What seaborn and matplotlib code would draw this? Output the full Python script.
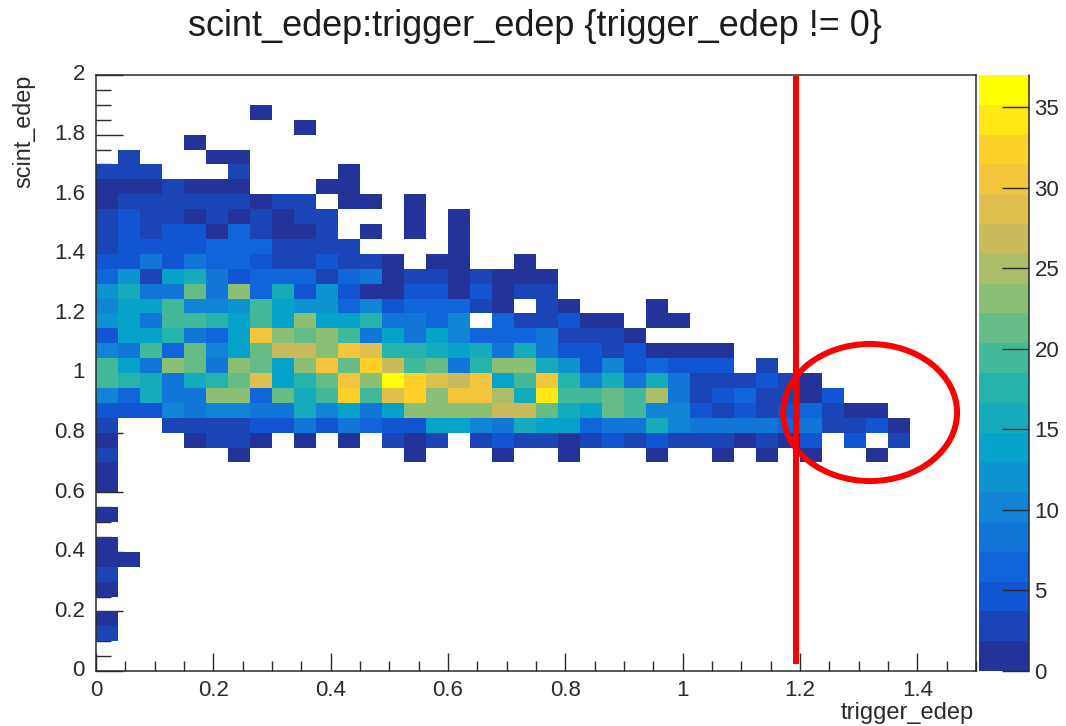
import numpy as np
import pandas as pd
import seaborn as sns
import matplotlib
matplotlib.use("Agg")
import matplotlib.pyplot as plt
from matplotlib.colors import LinearSegmentedColormap, BoundaryNorm
from matplotlib.patches import Ellipse
from matplotlib.ticker import FixedLocator

# Histogram counts: one list per scint_edep bin (bin 0 = 0-0.05), left to right in trigger_edep bins
row_02 = [3]
row_03 = [1]
row_05 = [1]
row_06 = [3]
row_07 = [1, 1]
row_08 = [1]
row_10 = [1]
row_12 = [1]
row_13 = [1]
row_14 = [3, 0, 0, 0, 0, 0, 1, 0, 0, 0, 0, 0, 0, 0, 1, 0, 0, 0, 1, 0, 0, 1, 0, 0, 0, 1, 0, 0, 1, 0, 1, 0, 1, 0, 0, 1]
row_15 = [1, 0, 0, 0, 1, 2, 2, 1, 0, 1, 0, 1, 0, 3, 1, 3, 0, 2, 4, 2, 2, 1, 2, 4, 3, 5, 3, 3, 3, 1, 2, 1, 4, 0, 4, 0, 3]
row_16 = [3, 0, 0, 3, 3, 3, 3, 4, 4, 8, 5, 9, 7, 5, 5, 13, 13, 10, 8, 15, 13, 13, 7, 9, 9, 16, 10, 8, 9, 8, 8, 6, 8, 3, 3, 5, 1]
row_17 = [5, 5, 5, 10, 9, 11, 11, 9, 9, 15, 10, 14, 9, 14, 23, 23, 23, 23, 27, 26, 22, 16, 14, 22, 19, 10, 10, 5, 3, 4, 2, 4, 7, 3, 1, 1]
row_18 = [11, 6, 15, 9, 8, 23, 24, 7, 22, 16, 19, 32, 20, 29, 33, 23, 30, 31, 25, 15, 34, 19, 19, 22, 20, 25, 9, 3, 5, 6, 2, 3, 1, 4]
row_19 = [20, 18, 16, 9, 15, 17, 21, 28, 14, 17, 21, 31, 24, 37, 32, 28, 26, 30, 13, 20, 31, 18, 11, 15, 8, 15, 8, 3, 3, 2, 4, 2, 1]
row_20 = [20, 13, 8, 23, 21, 9, 24, 22, 14, 24, 30, 22, 32, 27, 19, 22, 9, 18, 24, 24, 15, 12, 5, 10, 5, 7, 4, 4, 4, 0, 3]
row_21 = [10, 8, 20, 7, 22, 10, 14, 22, 26, 26, 24, 31, 29, 18, 17, 15, 14, 15, 9, 15, 9, 5, 5, 3, 4, 1, 1, 1, 1]
row_22 = [5, 13, 13, 17, 8, 7, 14, 30, 24, 22, 24, 19, 8, 13, 9, 13, 11, 7, 6, 6, 9, 3, 3, 3, 1]
row_23 = [12, 13, 9, 19, 19, 18, 13, 19, 14, 24, 14, 14, 18, 8, 9, 6, 10, 0, 7, 2, 2, 4, 1, 1, 0, 1, 1]
row_24 = [10, 13, 13, 19, 10, 11, 12, 19, 14, 12, 12, 6, 10, 5, 6, 6, 7, 2, 1, 0, 3, 1, 0, 0, 0, 1]
row_25 = [12, 15, 8, 9, 22, 8, 23, 6, 16, 5, 12, 5, 1, 1, 4, 4, 1, 4, 1, 3, 3]
row_26 = [6, 12, 3, 14, 15, 9, 4, 6, 7, 7, 3, 7, 8, 1, 3, 3, 1, 2, 1, 1, 1]
row_27 = [5, 4, 8, 4, 8, 7, 7, 5, 3, 3, 5, 3, 3, 1, 0, 1, 1, 0, 0, 1]
row_28 = [2, 5, 5, 4, 4, 7, 6, 6, 3, 3, 3, 2, 0, 0, 0, 0, 1]
row_29 = [3, 5, 2, 4, 4, 1, 6, 3, 1, 1, 3, 0, 1, 0, 1, 0, 1]
row_30 = [3, 4, 2, 2, 1, 2, 1, 3, 1, 2, 3, 0, 0, 0, 1, 0, 1]
row_31 = [1, 2, 2, 2, 3, 3, 2, 1, 3, 3, 0, 1, 1, 0, 1]
row_32 = [1, 1, 1, 2, 1, 1, 1, 0, 0, 0, 1, 1]
row_33 = [2, 3, 2, 0, 0, 0, 3, 0, 0, 0, 0, 1]
row_34 = [0, 3, 0, 0, 0, 1, 1]
row_35 = [0, 0, 0, 0, 1]
row_36 = [0, 0, 0, 0, 0, 0, 0, 0, 0, 1]
row_37 = [0, 0, 0, 0, 0, 0, 0, 1]

x_bin_width = 0.0375
y_bin_width = 0.05
n_x_bins = 40
n_y_bins = 40
z_max = 37
n_contours = 20
x_major = [0, 0.2, 0.4, 0.6, 0.8, 1.0, 1.2, 1.4]
x_major_labels = ["0", "0.2", "0.4", "0.6", "0.8", "1", "1.2", "1.4"]
y_major = [0, 0.2, 0.4, 0.6, 0.8, 1.0, 1.2, 1.4, 1.6, 1.8, 2.0]
y_major_labels = ["0", "0.2", "0.4", "0.6", "0.8", "1", "1.2", "1.4", "1.6", "1.8", "2"]
cbar_ticks = [0, 5, 10, 15, 20, 25, 30, 35]
cut_value = 1.193

rows = {k[4:]: v for k, v in list(globals().items()) if k.startswith("row_")}
grid = np.zeros((n_y_bins, n_x_bins))
for k, v in rows.items():
    grid[int(k), :len(v)] = v
df = pd.DataFrame(grid)

sns.set_theme(style="white")
plt.rcParams["font.family"] = ["Liberation Sans", "DejaVu Sans"]

W, H = 1066, 726
fig = plt.figure(figsize=(W / 100, H / 100), dpi=100, facecolor="white")
def px_axes(l, t, r, b):
    return fig.add_axes([l / W, 1 - b / H, (r - l) / W, (b - t) / H])
ax = px_axes(96, 75, 976, 671)
cax = px_axes(979, 75, 1029, 671)

bird = LinearSegmentedColormap.from_list("bird", [
    (0.14, 0.20, 0.60), (0.0592, 0.3599, 0.8684), (0.0780, 0.5041, 0.8385),
    (0.0232, 0.6419, 0.7914), (0.1802, 0.7178, 0.6425), (0.5301, 0.7492, 0.4662),
    (0.8186, 0.7328, 0.3499), (0.9956, 0.7862, 0.1968), (1.0, 1.0, 0.0)], N=n_contours)
norm = BoundaryNorm(np.linspace(0, z_max, n_contours + 1), n_contours)

sns.heatmap(df, ax=ax, cbar_ax=cax, cmap=bird, norm=norm, mask=df == 0,
            cbar_kws={"ticks": cbar_ticks})

ink = "#2a2a2a"
ax.set_xlim(0, n_x_bins)
ax.set_ylim(0, n_y_bins)
ax.set_xlabel("")
ax.set_ylabel("")
ax.xaxis.set_major_locator(FixedLocator([v / x_bin_width for v in x_major]))
ax.set_xticklabels(x_major_labels, rotation=0)
ax.yaxis.set_major_locator(FixedLocator([v / y_bin_width for v in y_major]))
ax.set_yticklabels(y_major_labels, rotation=0)
ax.xaxis.set_minor_locator(FixedLocator(np.arange(0, n_x_bins + 0.01, 0.05 / x_bin_width)))
ax.yaxis.set_minor_locator(FixedLocator(np.arange(0, n_y_bins + 0.01, 1.0)))
ax.tick_params(axis="x", which="major", direction="in", length=18 * .72, width=1.0, color=ink,
               labelsize=16, labelcolor=ink, pad=6.5, bottom=True, top=False)
ax.tick_params(axis="x", which="minor", direction="in", length=10 * .72, width=1.0, color=ink,
               bottom=True, top=False)
ax.tick_params(axis="y", which="major", direction="in", length=27 * .72, width=1.0, color=ink,
               labelsize=16, labelcolor=ink, pad=8, left=True, right=False)
ax.tick_params(axis="y", which="minor", direction="in", length=15 * .72, width=1.0, color=ink,
               left=True, right=False)
for s in ax.spines.values():
    s.set_visible(True)
    s.set_color(ink)
    s.set_linewidth(1.1)

cbar = ax.collections[0].colorbar
cbar.ax.minorticks_off()
cbar.outline.set_visible(False)
cax.set_axisbelow(False)
cax.tick_params(axis="y", which="major", direction="in", length=27 * .72, width=1.0, color=ink,
                labelsize=16, labelcolor=ink, pad=4, right=True, left=False)
cax.plot([1, 1], [0, 1], transform=cax.transAxes, color=ink, lw=1.1, clip_on=False, zorder=5)

# Annotations drawn by hand on the original: cut line and ellipse
ax.plot([cut_value / x_bin_width] * 2, [0.023 / y_bin_width, 1.995 / y_bin_width],
        color="#fb0000", lw=4.3, clip_on=False, solid_capstyle="butt", zorder=6)
ax.add_patch(Ellipse((1.3195 / x_bin_width, 0.8674 / y_bin_width), 0.2965 / x_bin_width, 0.46 / y_bin_width,
                     fill=False, edgecolor="#fb0000", lw=4.3, clip_on=False, zorder=6))

fig.text(535 / W, 1 - 27 / H, "scint_edep:trigger_edep {trigger_edep != 0}", ha="center", va="center",
         fontsize=26, color="#1c1c1c")
fig.text(974 / W, 1 - 713 / H, "trigger_edep", ha="right", va="center", fontsize=17, color=ink)
fig.text(24 / W, 1 - 75 / H, "scint_edep", ha="center", va="top", rotation=90, fontsize=16.8, color=ink)

fig.savefig("out.png", dpi=100, facecolor="white")
